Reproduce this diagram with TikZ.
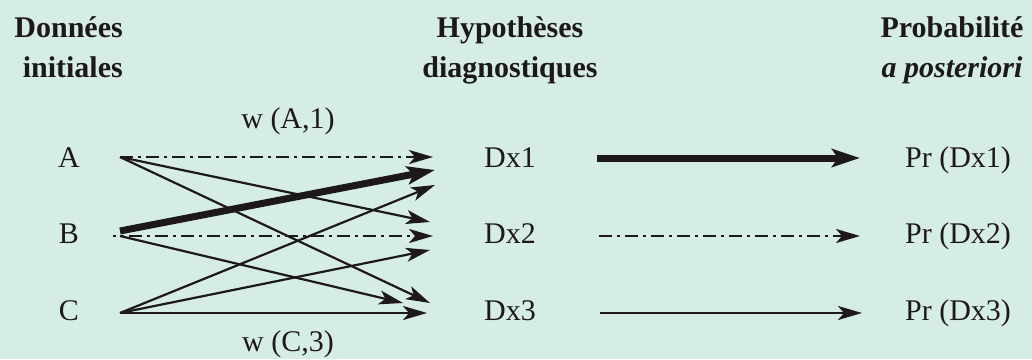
\documentclass[tikz,border=0pt]{standalone}
\usepackage{fontspec}
\setmainfont{Liberation Serif}
\usetikzlibrary{arrows.meta,calc}
\definecolor{bg}{RGB}{214,237,231}
\definecolor{ink}{RGB}{30,25,25}
\begin{document}
\begin{tikzpicture}[x=1pt,y=-1pt,
  lab/.style={anchor=base,inner sep=0pt,text=ink,font=\fontsize{30}{36}\selectfont},
  ttl/.style={anchor=base,inner sep=0pt,text=ink,font=\fontsize{30}{40}\selectfont\bfseries},
  conn/.style={draw=ink,line width=2.2pt,-{Stealth[length=24pt,width=14pt,inset=6pt]}},
  heavy/.style={draw=ink,line width=7pt,-{Stealth[length=28pt,width=18pt,inset=6pt]}},
  dd/.style={dash pattern=on 13pt off 5pt on 3pt off 5pt}]
\fill[bg] (0,0) rectangle (1032,359);
\useasboundingbox (0,0) rectangle (1032,359);
% titles
\node[ttl,align=right,anchor=base east] (t1) at (123,77) {Données\\initiales};
\node[ttl,align=center] (t2) at (510,77) {Hypothèses\\diagnostiques};
\node[ttl,align=center] (t3) at (952,77) {Probabilité\\\textit{a posteriori}};
% labels
\node[lab] (A) at (69,167) {A};
\node[lab] (B) at (69,243) {B};
\node[lab] (C) at (69,320) {C};
\node[lab] (D1) at (510,167) {Dx1};
\node[lab] (D2) at (510,243) {Dx2};
\node[lab] (D3) at (510,320) {Dx3};
\node[lab] (P1) at (958,167) {Pr (Dx1)};
\node[lab] (P2) at (958,243) {Pr (Dx2)};
\node[lab] (P3) at (958,320) {Pr (Dx3)};
\node[lab] (wA) at (288,128) {w (A,1)};
\node[lab] (wC) at (288,351) {w (C,3)};
% from A
\draw[conn,dd] ($(A.base)+(51,-10)$) -- ($(D1.base)+(-77,-10)$);
\draw[conn] ($(A.base)+(51,-10)$) -- ($(D2.base)+(-80,-21)$);
\draw[conn] ($(A.base)+(51,-10)$) -- ($(D3.base)+(-80,-17)$);
% from B
\draw[conn,dd,dash phase=10pt] ($(B.base)+(44,-7)$) -- ($(D2.base)+(-77,-7)$);
\draw[conn] ($(B.base)+(51,-7)$) -- ($(D3.base)+(-107,-17)$);
\draw[heavy] ($(B.base)+(51,-12)$) -- ($(D1.base)+(-75,3)$);
% from C
\draw[conn] ($(C.base)+(51,-7)$) -- ($(D1.base)+(-75,18)$);
\draw[conn] ($(C.base)+(51,-7)$) -- ($(D2.base)+(-80,7)$);
\draw[conn] ($(C.base)+(51,-7)$) -- ($(D3.base)+(-83,-7)$);
% right
\draw[heavy] ($(D1.base)+(87,-9)$) -- ($(P1.base)+(-98,-9)$);
\draw[conn,dd] ($(D2.base)+(89,-7)$) -- ($(P2.base)+(-98,-7)$);
\draw[conn] ($(D3.base)+(90,-7)$) -- ($(P3.base)+(-96,-7)$);
\end{tikzpicture}
\end{document}
